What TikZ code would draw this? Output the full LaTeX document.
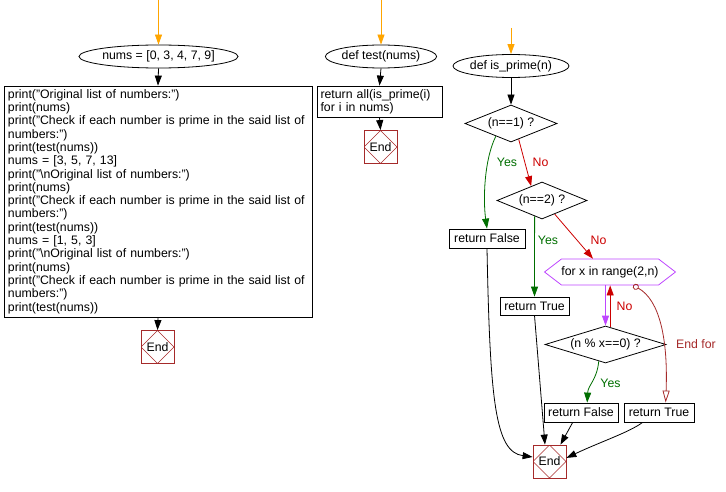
\documentclass[tikz,border=0pt]{standalone}
\usepackage{fontspec}
\setmainfont{Liberation Sans}
\usepackage{xcolor}
\usetikzlibrary{arrows.meta, shapes.geometric, shapes.symbols}

\definecolor{startorange}{RGB}{255,165,0}
\definecolor{yesgreen}{RGB}{0,110,0}
\definecolor{nored}{RGB}{204,0,0}
\definecolor{looppurple}{RGB}{190,70,255}
\definecolor{endbrown}{RGB}{165,42,42}

\begin{document}
\begin{tikzpicture}[
    x=1pt, y=-1pt,
    line width=0.8pt,
    >={Triangle[length=10pt, width=7pt]},
    every node/.style={font=\fontsize{12.3}{13.3}\selectfont, inner sep=0pt},
    term/.style={
        draw,
        ellipse,
        minimum height=23pt
    },
    proc/.style={
        draw,
        rectangle,
        minimum height=19pt,
        align=left
    },
    decide/.style={
        draw,
        diamond,
        aspect=3,
        minimum height=37pt
    },
    loopbox/.style={
        draw=looppurple,
        signal,
        signal to=west and east,
        signal pointer angle=75,
        minimum width=130pt,
        minimum height=26pt
    },
    endbox/.style={
        draw=endbrown,
        minimum width=33pt,
        minimum height=33pt,
        path picture={
            \draw[endbrown, line width=0.6pt]
                (path picture bounding box.north) -- (path picture bounding box.east)
                -- (path picture bounding box.south) -- (path picture bounding box.west) -- cycle;
        }
    },
    yeslbl/.style={text=yesgreen},
    nolbl/.style={text=nored}
]
\useasboundingbox (0,0) rectangle (726,492);

% Main program
\coordinate (top1) at (158.5,0);
\node[term, minimum width=129pt] (nums) at (158.5,56.5) {nums = [0, 3, 4, 7, 9]};
\node[proc, minimum width=308pt, minimum height=231pt, text width=300pt] (code) at (158,201.5)
    {print("Original list of numbers:")\\
     print(nums)\\
     print("Check if each number is prime in the said list of\\
     numbers:")\\
     print(test(nums))\\
     nums = [3, 5, 7, 13]\\
     print("\textbackslash nOriginal list of numbers:")\\
     print(nums)\\
     print("Check if each number is prime in the said list of\\
     numbers:")\\
     print(test(nums))\\
     nums = [1, 5, 3]\\
     print("\textbackslash nOriginal list of numbers:")\\
     print(nums)\\
     print("Check if each number is prime in the said list of\\
     numbers:")\\
     print(test(nums))};
\node[endbox] (end1) at (157.5,347) {End};

\draw[->, startorange] (top1) -- (nums.north);
\draw[->] (nums.south) -- (code.north);
\draw[->] (code.south) -- (end1.north);

% def test
\coordinate (top2) at (381,0);
\node[term, minimum width=96pt] (test) at (381,56.5) {def test(nums)};
\node[proc, minimum width=125pt, minimum height=31pt, text width=118pt] (retall) at (379.5,101.5)
    {return all(is\_prime(i)\\for i in nums)};
\node[endbox] (end2) at (380.5,147) {End};

\draw[->, startorange] (top2) -- (test.north);
\draw[->] (test.south) -- (retall.north);
\draw[->] (retall.south) -- (end2.north);

% def is_prime
\coordinate (top3) at (511,28);
\node[term, minimum width=100pt] (isprime) at (511,66) {def is\_prime(n)};
\node[decide, minimum width=92pt] (d1) at (511,123.5) {(n==1) ?};
\node[decide, minimum width=90pt] (d2) at (542,200.5) {(n==2) ?};
\node[proc, minimum width=76pt] (rf1) at (487,238.5) {return False};
\node[proc, minimum width=69pt, minimum height=18pt] (rt1) at (534.5,306) {return True};
\node[loopbox] (loop) at (610,272) {for x in range(2,n)};
\node[decide, minimum width=121pt] (d3) at (605.5,344.5) {(n \% x==0) ?};
\node[proc, minimum width=74pt] (rf2) at (581,412.5) {return False};
\node[proc, minimum width=70pt] (rt2) at (659,412.5) {return True};
\node[endbox] (end3) at (549.5,461.5) {End};

\draw[->, startorange] (top3) -- (isprime.north);
\draw[->] (isprime.south) -- (d1.north);

\draw[->, yesgreen] (d1.220) .. controls (484,160) and (483,200) .. (rf1.north);
\node[yeslbl] (yes1) at (507,162) {Yes};
\draw[->, nored] (d1.296) -- (d2.127);
\node[nolbl] (no1) at (540.5,162) {No};

\draw[->, yesgreen] (d2.245) -- (rt1.north);
\node[yeslbl] (yes2) at (548,240) {Yes};
\draw[->, nored] (d2.313) -- (loop.142);
\node[nolbl] (no2) at (598.5,240) {No};

\draw[->, looppurple] (loop.south -| d3.north) -- (d3.north);
\draw[->, nored] (d3.75) -- (d3.75 |- loop.south);
\node[nolbl] (no3) at (624.5,306) {No};

\draw[->, yesgreen] (d3.248) .. controls (597,380) and (588,385) .. (rf2.58);
\node[yeslbl] (yes3) at (610.5,383.5) {Yes};

\draw[endbrown, {Circle[open, length=6pt]}-{Triangle[open, length=12pt, width=7pt]}]
    (loop.330) .. controls (660,300) and (668,340) .. (rt2.56);
\node[text=endbrown] (endfor) at (696,344.5) {End for};

% everything ends here
\draw[->] (rf1.south) .. controls (490,400) and (495,452) .. (end3.165);
\draw[->] (rt1.south) -- (end3.105);
\draw[->] (rf2.230) -- (end3.57);
\draw[->] (rt2.211) .. controls (630,432) and (600,442) .. (end3.12);

\end{tikzpicture}
\end{document}
